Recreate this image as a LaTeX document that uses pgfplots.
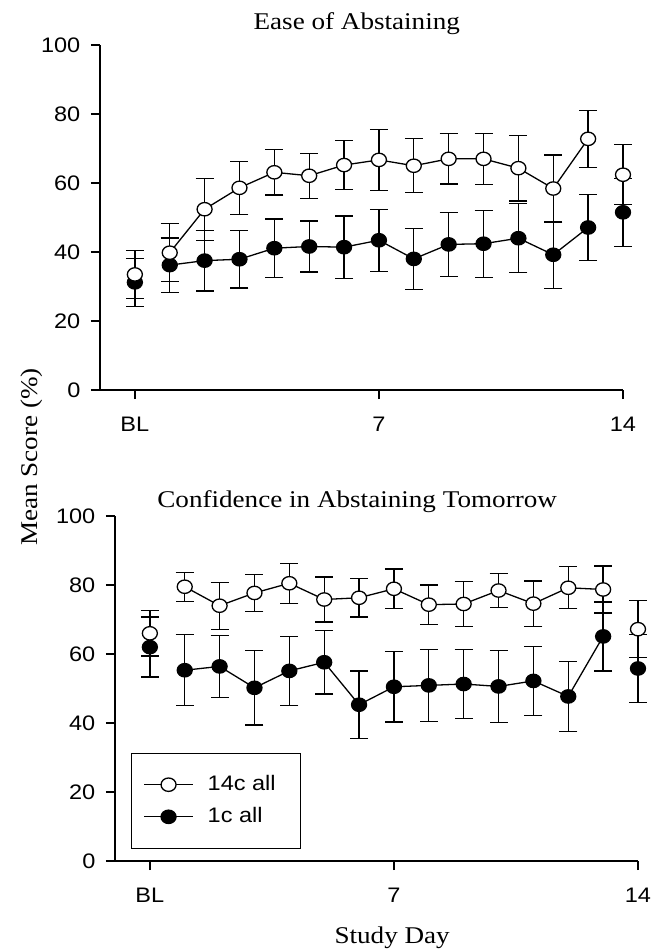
\documentclass[border=0pt]{standalone}
\usepackage{fontspec}
\setmainfont{Liberation Serif}[FakeStretch=1.13]
\newfontfamily\sansf{Liberation Sans}[FakeStretch=1.12]
\usepackage{pgfplots}
\pgfplotsset{compat=1.18}
\usepackage{pgfplotstable}

% Ease of Abstaining, 14c all (open)
\pgfplotstableread{
d m e
0 33.5 7.0
1 39.8 8.4
2 52.4 9.0
3 58.6 7.7
4 63.1 6.6
5 62.1 6.5
6 65.2 7.1
7 66.7 8.8
8 65.0 7.8
9 67.0 7.3
10 67.0 7.4
11 64.3 9.5
12 58.4 9.7
13 72.8 8.3
14 62.4 8.7
}\topOpen
% Ease of Abstaining, 1c all (filled)
\pgfplotstableread{
d m e
0 31.2 7.0
1 36.2 7.9
2 37.5 8.8
3 37.9 8.3
4 41.1 8.5
5 41.6 7.4
6 41.4 9.0
7 43.4 9.0
8 38.0 8.8
9 42.2 9.3
10 42.4 9.7
11 44.0 10.0
12 39.2 9.7
13 47.1 9.6
14 51.5 9.9
}\topFilled
% Confidence, 14c all (open)
\pgfplotstableread{
d m e
0 66.0 6.6
1 79.5 4.2
2 74.0 6.8
3 77.7 5.3
4 80.5 5.8
5 75.8 6.5
6 76.3 5.6
7 78.9 5.7
8 74.3 5.7
9 74.5 6.6
10 78.4 5.0
11 74.6 6.6
12 79.2 6.1
13 78.7 6.8
14 67.2 8.3
}\botOpen
% Confidence, 1c all (filled)
\pgfplotstableread{
d m e
0 62.0 8.7
1 55.3 10.3
2 56.4 9.0
3 50.2 10.8
4 55.1 10.0
5 57.6 9.2
6 45.3 9.8
7 50.5 10.2
8 50.9 10.5
9 51.3 10.0
10 50.6 10.4
11 52.2 10.0
12 47.7 10.2
13 65.1 10.0
14 55.8 9.8
}\botFilled

\pgfplotsset{
  every axis title shift=0pt,
  panel/.style={
    scale only axis, width=261.5pt, height=172.5pt,
    xmin=-1, xmax=14, ymin=0, ymax=100, enlargelimits=false,
    axis lines=left, axis line style={-, line width=0.65pt},
    xtick={0,7,14}, xticklabels={BL,7,14},
    ytick={0,20,40,60,80,100},
    tick align=outside, major tick length=4.5pt,
    tick style={black, line width=0.65pt},
    ticklabel style={font=\sansf\fontsize{10.5}{12}\selectfont},
    /pgf/number format/assume math mode=true,
    xticklabel style={yshift=-5.3pt}, yticklabel style={xshift=-1.8pt},
    title style={font=\fontsize{12}{14}\selectfont, anchor=base},
    clip=false,
  },
  ebars/.style={error bars/.cd, y dir=both, y explicit,
    error bar style={line width=0.65pt, black},
    error mark options={rotate=90, mark size=4.5pt, line width=0.65pt, black}},
  openS/.style={black, line width=0.65pt, mark=*, mark size=3.35pt,
    mark options={fill=white, draw=black, solid, xscale=1.12}},
  fillS/.style={black, line width=0.65pt, mark=*, mark size=3.35pt,
    mark options={fill=black, draw=black, solid, xscale=1.12}},
}

\begin{document}
\begin{tikzpicture}
\path[use as bounding box] (0,0) rectangle (330.5pt,475pt);

% ---------- top panel ----------
\begin{axis}[panel, at={(50pt,280pt)}, anchor=south west,
  title={Ease of Abstaining},
  title style={at={(axis description cs:0.491,1)}, yshift=7.5pt}]
\addplot[fillS, restrict x to domain=1:13, ebars] table[x=d, y=m, y error=e] {\topFilled};
\addplot[fillS, only marks, skip coords between index={1}{14}, ebars] table[x=d, y=m, y error=e] {\topFilled};
\addplot[openS, restrict x to domain=1:13, ebars] table[x=d, y=m, y error=e] {\topOpen};
\addplot[openS, only marks, skip coords between index={1}{14}, ebars] table[x=d, y=m, y error=e] {\topOpen};
\end{axis}

% ---------- bottom panel ----------
\begin{axis}[panel, at={(57.5pt,44.5pt)}, anchor=south west,
  title={Confidence in Abstaining Tomorrow},
  title style={at={(axis description cs:0.463,1)}, yshift=4.5pt},
  xlabel={Study Day},
  xlabel style={font=\fontsize{12}{14}\selectfont, at={(axis description cs:0.53,0)}, anchor=base, yshift=-41pt},
  legend style={at={(0.0306,0.035)}, anchor=south west, draw=black, line width=0.4pt,
    fill=white, font=\sansf\fontsize{10.5}{12}\selectfont, inner xsep=6pt, inner ysep=8.3pt,
    row sep=0.95pt, nodes={inner xsep=3pt, inner ysep=3pt},
    /tikz/every odd column/.append style={column sep=4pt}},
  legend cell align=left,
  legend image code/.code={\draw[mark repeat=2, mark phase=2, #1] plot coordinates {(0pt,0pt) (12.25pt,0pt) (24.5pt,0pt)};}]
\addlegendimage{openS}
\addlegendentry{14c all\hspace*{3.5pt}}
\addlegendimage{fillS}
\addlegendentry{1c all}
\addplot[fillS, forget plot, restrict x to domain=1:13, ebars] table[x=d, y=m, y error=e] {\botFilled};
\addplot[fillS, forget plot, only marks, skip coords between index={1}{14}, ebars] table[x=d, y=m, y error=e] {\botFilled};
\addplot[openS, forget plot, restrict x to domain=1:13, ebars] table[x=d, y=m, y error=e] {\botOpen};
\addplot[openS, forget plot, only marks, skip coords between index={1}{14}, ebars] table[x=d, y=m, y error=e] {\botOpen};
\end{axis}

\node[rotate=90, font=\fontsize{12}{14}\selectfont] at (16pt,246.5pt) {Mean Score (\%)};
\end{tikzpicture}
\end{document}
